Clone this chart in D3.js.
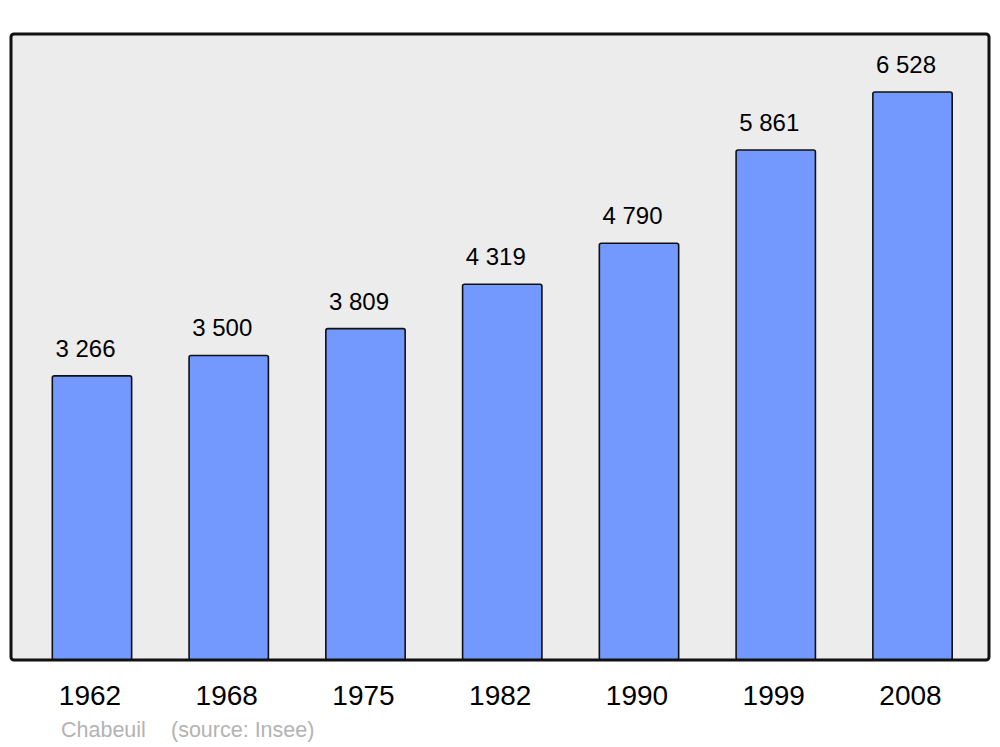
<!DOCTYPE html>
<html>
<head>
<meta charset="utf-8">
<script src="https://cdn.jsdelivr.net/npm/d3@7"></script>
<style>
  body { margin: 0; background: #fff; }
  text { font-family: "Liberation Sans", Arial, sans-serif; }
</style>
</head>
<body>
<svg width="1000" height="747"></svg>
<script>
const years = ['1962', '1968', '1975', '1982', '1990', '1999', '2008'];
const population = [3266, 3500, 3809, 4319, 4790, 5861, 6528];
const valueLabels = ['3 266', '3 500', '3 809', '4 319', '4 790', '5 861', '6 528'];

const svg = d3.select('svg');
const panel = { left: 11, top: 34, right: 989, bottom: 660 };

const x = d3.scaleBand()
    .domain(years)
    .range([23.6, 980.9])
    .paddingInner(0.42)
    .paddingOuter(0.21);

const y = d3.scaleLinear()
    .domain([0, 6528])
    .range([panel.bottom, 92]);

// background panel
svg.append('rect')
    .attr('x', panel.left)
    .attr('y', panel.top)
    .attr('width', panel.right - panel.left)
    .attr('height', panel.bottom - panel.top)
    .attr('rx', 3)
    .attr('fill', '#ececec');

const data = years.map((yr, i) => ({ year: yr, value: population[i], label: valueLabels[i] }));

svg.selectAll('.bar').data(data)
    .enter().append('rect')
    .attr('class', 'bar')
    .attr('x', d => x(d.year))
    .attr('y', d => y(d.value))
    .attr('width', x.bandwidth())
    .attr('height', d => y(0) - y(d.value))
    .attr('rx', 2)
    .attr('fill', '#7399ff')
    .attr('stroke', '#111')
    .attr('stroke-width', 1.6);

// panel outline on top of bars
svg.append('rect')
    .attr('x', panel.left)
    .attr('y', panel.top)
    .attr('width', panel.right - panel.left)
    .attr('height', panel.bottom - panel.top)
    .attr('rx', 3)
    .attr('fill', 'none')
    .attr('stroke', '#111')
    .attr('stroke-width', 3);

svg.selectAll('.val').data(data)
    .enter().append('text')
    .attr('class', 'val')
    .attr('x', d => x(d.year) + x.bandwidth() / 2 - 6.5)
    .attr('y', d => y(d.value) - 19)
    .attr('text-anchor', 'middle')
    .attr('font-size', 24)
    .attr('fill', '#000')
    .text(d => d.label);

svg.selectAll('.year').data(data)
    .enter().append('text')
    .attr('class', 'year')
    .attr('x', d => x(d.year) + x.bandwidth() / 2 - 2)
    .attr('y', 705)
    .attr('text-anchor', 'middle')
    .attr('font-size', 28)
    .attr('fill', '#000')
    .text(d => d.year);

svg.append('text')
    .attr('x', 61).attr('y', 737)
    .attr('font-size', 21.5)
    .attr('fill', '#b3b3b3')
    .text('Chabeuil');

svg.append('text')
    .attr('x', 171).attr('y', 737)
    .attr('font-size', 21.5)
    .attr('fill', '#b3b3b3')
    .text('(source: Insee)');
</script>
</body>
</html>
